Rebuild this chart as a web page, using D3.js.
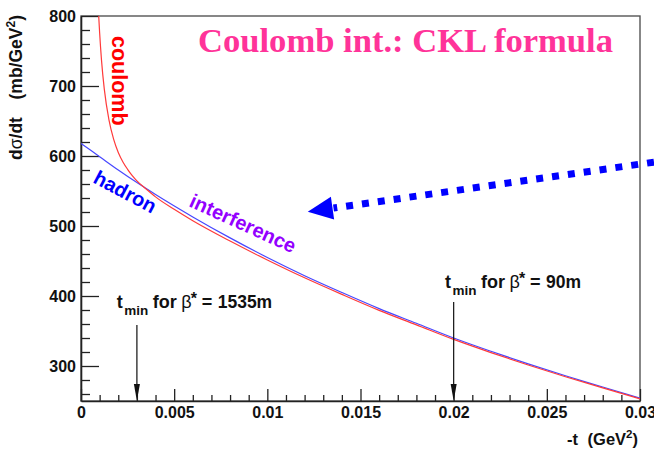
<!DOCTYPE html>
<html>
<head>
<meta charset="utf-8">
<script src="https://cdn.jsdelivr.net/npm/d3@7"></script>
<style>
  html, body { margin: 0; padding: 0; background: #fff; }
  svg { display: block; font-family: "Liberation Sans", Arial, sans-serif; }
</style>
</head>
<body>
<svg id="chart" width="654" height="451"></svg>
<script>
// Hadronic (nuclear) part of dσ/dt, -t in GeV^2, dσ/dt in mb/GeV^2
const hadronT     = [0, 0.001, 0.002, 0.003, 0.004, 0.006, 0.008, 0.010, 0.012, 0.014, 0.016, 0.018, 0.020, 0.022, 0.024, 0.026, 0.028, 0.030];
const hadronSigma = [618, 599, 580, 562, 545, 513, 483, 455, 429, 405, 382, 361, 340, 321, 303, 286, 270, 254];

// Full dσ/dt: coulomb + hadron + interference (CKL)
const totalT     = [0.00095, 0.001, 0.0011, 0.00125, 0.0015, 0.00175, 0.002, 0.00225, 0.0025, 0.00275, 0.003, 0.0035, 0.004, 0.005, 0.006, 0.008, 0.010, 0.012, 0.014, 0.016, 0.018, 0.020, 0.022, 0.024, 0.026, 0.028, 0.030];
const totalSigma = [800, 776, 737, 695.5, 651.6, 624, 605, 591.5, 581, 572, 564.5, 552.7, 541.6, 523.8, 507.5, 478.5, 451.5, 426, 402.3, 379.5, 358.8, 338, 319.2, 301.4, 284.6, 268.8, 253];

// Axis ticks
const xTicks      = [0, 0.005, 0.01, 0.015, 0.02, 0.025, 0.03];
const xTickLabels = ["0", "0.005", "0.01", "0.015", "0.02", "0.025", "0.03"];
const xMinorTicks = d3.range(1, 30).map(i => i / 1000);
const yTicks      = [300, 400, 500, 600, 700, 800];
const yMinorTicks = d3.range(260, 800, 20);

// t_min markers for the two optics
const tminT    = [0.003, 0.02];
const tminBeta = ["1535m", "90m"];

const svg = d3.select("#chart");
const W = 654, H = 451;
const plot = { left: 81, right: 640, top: 16, bottom: 401 };

const x = d3.scaleLinear().domain([0, 0.03]).range([plot.left, plot.right]);
const y = d3.scaleLinear().domain([250, 800]).range([plot.bottom, plot.top]);

svg.append("rect").attr("width", W).attr("height", H).attr("fill", "#fff");

// Frame
svg.append("rect")
  .attr("x", plot.left).attr("y", plot.top)
  .attr("width", plot.right - plot.left).attr("height", plot.bottom - plot.top)
  .attr("fill", "none").attr("stroke", "#555").attr("stroke-width", 1.4);

// Title
svg.append("text")
  .attr("x", 198).attr("y", 52)
  .attr("font-family", "'Liberation Serif', 'Times New Roman', serif")
  .attr("font-weight", "bold").attr("font-size", 34.6)
  .attr("fill", "#ff3399")
  .text("Coulomb int.: CKL formula");

// Y axis: major + minor ticks pointing into the frame
svg.append("g").attr("transform", `translate(${plot.left},0)`)
  .call(d3.axisLeft(y).tickValues(yTicks).tickSizeInner(-18).tickSizeOuter(0).tickPadding(5).tickFormat(d3.format("d")));
svg.append("g").attr("transform", `translate(${plot.left},0)`)
  .call(d3.axisLeft(y).tickValues(yMinorTicks.filter(v => v % 100 !== 0)).tickSizeInner(-9).tickSizeOuter(0).tickFormat(""))
  .call(g => g.select(".domain").remove());

// X axis
svg.append("g").attr("transform", `translate(0,${plot.bottom})`)
  .call(d3.axisBottom(x).tickValues(xTicks).tickSizeInner(-12).tickSizeOuter(0).tickPadding(6)
    .tickFormat((d, i) => xTickLabels[i]));
svg.append("g").attr("transform", `translate(0,${plot.bottom})`)
  .call(d3.axisBottom(x).tickValues(xMinorTicks.filter(v => Math.round(v * 1000) % 5 !== 0)).tickSizeInner(-6).tickSizeOuter(0).tickFormat(""))
  .call(g => g.select(".domain").remove());

svg.selectAll(".tick line").attr("stroke", "#222").attr("stroke-width", 1.3);
svg.selectAll(".domain").attr("stroke", "#222").attr("stroke-width", 1.6);
svg.selectAll(".tick text")
  .attr("font-family", "'Liberation Sans', Arial, sans-serif")
  .attr("font-weight", "bold").attr("font-size", 16).attr("fill", "#111");

// Y axis title
svg.append("text")
  .attr("transform", "translate(22,160) rotate(-90)")
  .attr("font-weight", "bold").attr("font-size", 17.5).attr("fill", "#111")
  .call(t => {
    t.append("tspan").text("d");
    t.append("tspan").attr("font-weight", "normal").text("σ");
    t.append("tspan").text("/dt");
  });
svg.append("text")
  .attr("transform", "translate(22,15) rotate(-90)")
  .attr("text-anchor", "end")
  .attr("font-weight", "bold").attr("font-size", 17.5).attr("fill", "#111")
  .call(t => {
    t.append("tspan").text("(mb/GeV");
    t.append("tspan").attr("font-size", 12).attr("dy", -7).text("2");
    t.append("tspan").attr("dy", 7).text(")");
  });

// X axis title
svg.append("text")
  .attr("x", 567).attr("y", 445)
  .attr("font-weight", "bold").attr("font-size", 16.5).attr("fill", "#111")
  .text("-t");
svg.append("text")
  .attr("x", 638).attr("y", 445).attr("text-anchor", "end")
  .attr("font-weight", "bold").attr("font-size", 16.5).attr("fill", "#111")
  .call(t => {
    t.append("tspan").text("(GeV");
    t.append("tspan").attr("font-size", 11.5).attr("dy", -7).text("2");
    t.append("tspan").attr("dy", 7).text(")");
  });

// Curves
svg.append("clipPath").attr("id", "plotClip")
  .append("rect").attr("x", plot.left).attr("y", plot.top)
  .attr("width", plot.right - plot.left).attr("height", plot.bottom - plot.top);

const line = d3.line().x(d => x(d[0])).y(d => y(d[1])).curve(d3.curveMonotoneX);
const curves = svg.append("g").attr("clip-path", "url(#plotClip)");
curves.append("path")
  .datum(hadronT.map((t, i) => [t, hadronSigma[i]]))
  .attr("d", line).attr("fill", "none").attr("stroke", "#4747ff").attr("stroke-width", 1.2);
curves.append("path")
  .datum(totalT.map((t, i) => [t, totalSigma[i]]))
  .attr("d", line).attr("fill", "none").attr("stroke", "#ff3a3a").attr("stroke-width", 1.2);

// Curve labels
svg.append("text")
  .attr("transform", "translate(112,36) rotate(90)")
  .attr("font-weight", "bold").attr("font-size", 21.5).attr("fill", "#ff0000")
  .text("coulomb");
svg.append("text")
  .attr("transform", "translate(92,182) rotate(28)")
  .attr("font-weight", "bold").attr("font-size", 20).attr("fill", "#0000ff")
  .text("hadron");
svg.append("text")
  .attr("transform", "translate(188,206) rotate(24.5)")
  .attr("font-weight", "bold").attr("font-size", 20).attr("fill", "#9400ff")
  .text("interference");

// t_min markers: label plus downward arrow onto the t axis
const tminLayout = [{ dx: -20.2, base: 308.3, top: 325 }, { dx: -8.7, base: 288.3, top: 302 }];
tminT.forEach((t, i) => {
  const L = tminLayout[i];
  const x0 = x(t) + L.dx;
  const g = svg.append("g").attr("font-weight", "bold").attr("fill", "#111");
  g.append("text").attr("x", x0).attr("y", L.base).attr("font-size", 18).text("t");
  g.append("text").attr("x", x0 + 7.5).attr("y", L.base + 7).attr("font-size", 13.5).text("min");
  g.append("text").attr("x", x0 + 36).attr("y", L.base).attr("font-size", 18).text("for");
  g.append("text").attr("x", x0 + 64.5).attr("y", L.base).attr("font-size", 18).attr("font-weight", "normal").text("β");
  g.append("text").attr("x", x0 + 74).attr("y", L.base - 4).attr("font-size", 16).text("*");
  g.append("text").attr("x", x0 + 85).attr("y", L.base).attr("font-size", 18).text("=");
  g.append("text").attr("x", x0 + 101).attr("y", L.base).attr("font-size", 17.5).text(tminBeta[i]);

  const xa = x(t);
  svg.append("line")
    .attr("x1", xa).attr("x2", xa).attr("y1", L.top).attr("y2", y(250) - 14)
    .attr("stroke", "#111").attr("stroke-width", 1.2);
  svg.append("path")
    .attr("d", `M${xa - 3},${y(250) - 17}L${xa + 3},${y(250) - 17}L${xa},${y(250)}Z`)
    .attr("fill", "#111");
});

// Dotted blue pointer onto the interference region
const tail = [x(0.0316), y(594.5)];
const tip  = [x(0.01217), y(520.4)];
const dxp = tip[0] - tail[0], dyp = tip[1] - tail[1];
const len = Math.hypot(dxp, dyp), ux = dxp / len, uy = dyp / len;
const headLen = 25, headHalf = 11.5;
const base = [tip[0] - ux * headLen, tip[1] - uy * headLen];
svg.append("line")
  .attr("x1", tail[0]).attr("y1", tail[1]).attr("x2", base[0] - ux * 1).attr("y2", base[1] - uy * 1)
  .attr("stroke", "#0000ff").attr("stroke-width", 7).attr("stroke-dasharray", "7,9");
svg.append("path")
  .attr("d", `M${tip[0]},${tip[1]}L${base[0] - uy * headHalf},${base[1] + ux * headHalf}L${base[0] + uy * headHalf},${base[1] - ux * headHalf}Z`)
  .attr("fill", "#0000ff");
</script>
</body>
</html>
